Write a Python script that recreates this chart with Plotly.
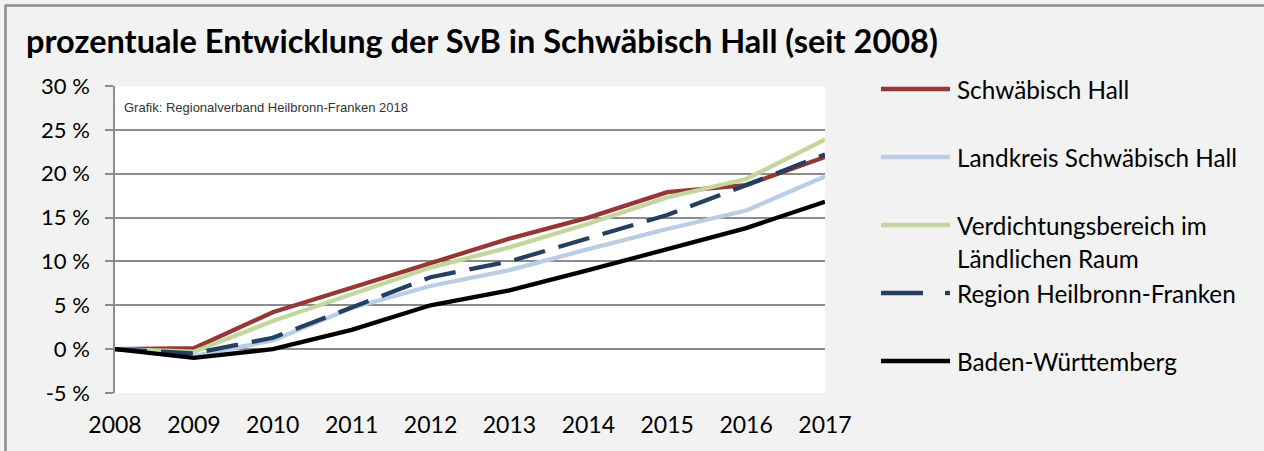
import plotly.graph_objects as go

years = [2008, 2009, 2010, 2011, 2012, 2013, 2014, 2015, 2016, 2017]
schwaebisch_hall = [0.0, 0.1, 4.2, 7.0, 9.9, 12.6, 15.0, 17.9, 18.7, 21.9]
landkreis_sha = [0.0, -0.8, 1.0, 4.7, 7.2, 9.0, 11.4, 13.7, 15.8, 19.7]
verdichtung = [0.0, -0.3, 3.2, 6.3, 9.3, 11.6, 14.3, 17.3, 19.4, 23.9]
region_hnf = [0.0, -0.5, 1.3, 4.8, 8.2, 10.0, 12.6, 15.3, 18.7, 22.2]
bawue = [0.0, -1.0, 0.0, 2.2, 5.0, 6.7, 9.0, 11.4, 13.8, 16.8]

series_names = ["Schwäbisch Hall", "Landkreis Schwäbisch Hall",
                "Verdichtungsbereich im Ländlichen Raum",
                "Region Heilbronn-Franken", "Baden-Württemberg"]
y_tickvals = [-5, 0, 5, 10, 15, 20, 25, 30]
y_ticktext = ["-5 %", "0 %", "5 %", "10 %", "15 %", "20 %", "25 %", "30 %"]

colors = ["#953735", "#B9CDE5", "#C3D69B", "#243F60", "#000000"]
dashes = ["solid", "solid", "solid", "32px,14px", "solid"]
data = [schwaebisch_hall, landkreis_sha, verdichtung, region_hnf, bawue]

W, H = 1264, 451
L, R, T, B = 115, 439, 86, 58
PW, PH = W - L - R, H - T - B

def px(x):
    return (x - L) / PW

def py(y):
    return (H - B - y) / PH

FONT = "Lato"
GRID = "#8c8c8c"

fig = go.Figure()
for name, vals, c, d in zip(series_names, data, colors, dashes):
    fig.add_trace(go.Scatter(x=years, y=vals, mode="lines", name=name,
                             line=dict(color=c, width=4.3, dash=d),
                             showlegend=False, hoverinfo="skip"))

fig.update_layout(
    width=W, height=H,
    margin=dict(l=L, r=R, t=T, b=B),
    paper_bgcolor="#f2f2f2", plot_bgcolor="#ffffff",
    font=dict(family=FONT, size=23, color="#000000"),
    xaxis=dict(range=[2008, 2017], tickvals=years, ticktext=[str(y) for y in years],
               showgrid=False, zeroline=False, showline=False, ticks="",
               ticklabelstandoff=16, tickfont=dict(size=23)),
    xaxis2=dict(range=[2008, 2017], overlaying="x", anchor="free", position=5 / 35,
                tickvals=years, showticklabels=False, ticks="outside", ticklen=8,
                tickwidth=1.5, tickcolor=GRID, showline=True, linecolor=GRID,
                linewidth=1.5, showgrid=False, zeroline=False),
    yaxis=dict(range=[-5, 30], tickvals=y_tickvals, ticktext=y_ticktext,
               showgrid=True, gridcolor=GRID, gridwidth=1.5, zeroline=False,
               showline=True, linecolor=GRID, linewidth=1.5,
               ticks="outside", ticklen=8, tickwidth=1.5, tickcolor=GRID,
               ticklabelstandoff=11, tickfont=dict(size=22)),
)

# title
fig.add_annotation(text="<b>prozentuale Entwicklung der SvB in Schwäbisch Hall (seit 2008)</b>",
                   xref="paper", yref="paper", x=px(24), y=py(41), xanchor="left",
                   yanchor="middle", showarrow=False,
                   font=dict(family=FONT, size=32.5, color="#000000"))
# source note
fig.add_annotation(text="Grafik: Regionalverband Heilbronn-Franken 2018",
                   xref="paper", yref="paper", x=px(122), y=py(107), xanchor="left",
                   yanchor="middle", showarrow=False,
                   font=dict(family="Liberation Sans", size=13, color="#333333"))

# outer border (top and left)
fig.add_shape(type="line", xref="paper", yref="paper", x0=px(5), x1=px(1264),
              y0=py(5.5), y1=py(5.5), line=dict(color=GRID, width=2.5))
fig.add_shape(type="line", xref="paper", yref="paper", x0=px(5.5), x1=px(5.5),
              y0=py(5), y1=py(451), line=dict(color=GRID, width=2.5))

# manual legend
rows = [89, 157, 225, 293, 361]
labels = [["Schwäbisch Hall"], ["Landkreis Schwäbisch Hall"],
          ["Verdichtungsbereich im", "Ländlichen Raum"],
          ["Region Heilbronn-Franken"], ["Baden-Württemberg"]]
for ry, lab, c, d in zip(rows, labels, colors, dashes):
    if d == "solid":
        fig.add_shape(type="line", xref="paper", yref="paper", x0=px(881), x1=px(950),
                      y0=py(ry), y1=py(ry), line=dict(color=c, width=4.3))
    else:
        fig.add_shape(type="line", xref="paper", yref="paper", x0=px(881), x1=px(923),
                      y0=py(ry), y1=py(ry), line=dict(color=c, width=4.3))
        fig.add_shape(type="line", xref="paper", yref="paper", x0=px(945), x1=px(950),
                      y0=py(ry), y1=py(ry), line=dict(color=c, width=4.3))
    for i, t in enumerate(lab):
        fig.add_annotation(text=t, xref="paper", yref="paper", x=px(955),
                           y=py(ry + 33 * i), xanchor="left", yanchor="middle",
                           showarrow=False, font=dict(family=FONT, size=24.3, color="#000000"))

fig.write_html("out.html", config={"displayModeBar": False},
               post_script="document.body.style.margin='0';document.body.style.overflow='hidden';")
